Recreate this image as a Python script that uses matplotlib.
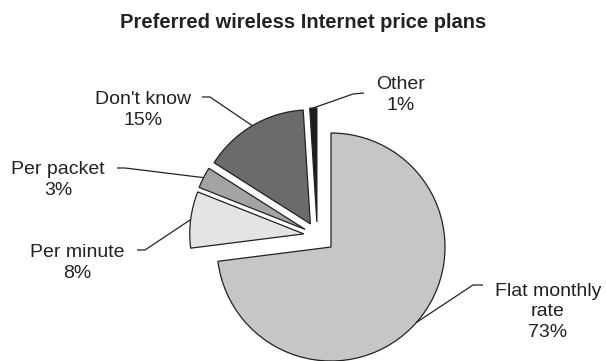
import numpy as np
import matplotlib
matplotlib.use("Agg")
import matplotlib.pyplot as plt

plt.rcParams['font.family'] = ['Liberation Sans', 'DejaVu Sans']

# price plan shares, clockwise from 12 o'clock
plans = ["Flat monthly\nrate", "Per minute", "Per packet", "Don't know", "Other"]
shares = [73, 8, 3, 15, 1]
colors = ["#c6c6c6", "#e4e4e4", "#a3a3a3", "#6b6b6b", "#1e1e1e"]

W, H = 606, 361
radius = 114
center = (331, 114)

fig = plt.figure(figsize=(W / 100, H / 100), dpi=100)
ax = fig.add_axes([0, 0, 1, 1])

# every small slice pulled out a bit, and the whole group nudged up-left
explode = [0] + [0.12 * radius] * 4
wedges, _ = ax.pie(shares, explode=explode, colors=colors, radius=radius,
                   center=center, startangle=90, counterclock=False,
                   wedgeprops=dict(edgecolor="#222222", linewidth=0.9))
shift = np.array([-0.12, 0.10]) * radius
for w in wedges[1:]:
    w.set_center(tuple(np.array(w.center) + shift))

ax.set_xlim(0, W)
ax.set_ylim(0, H)
ax.set_aspect("equal")
ax.axis("off")

# label text centre, elbow of the leader, end of the short dash
label_layout = [
    ((548, 312), (473, 285), (483, 285)),
    ((77, 263), (145, 250), (137, 250)),
    ((58, 180), (125, 168), (117, 168)),
    ((143, 110), (210, 97), (202, 97)),
    ((401, 95), (353, 94), (364, 93)),
]

for w, name, val, (txt, elbow, dash) in zip(wedges, plans, shares, label_layout):
    mid = np.deg2rad((w.theta1 + w.theta2) / 2)
    cx, cy = w.center
    edge = (cx + radius * np.cos(mid), cy + radius * np.sin(mid))
    xs = [edge[0], elbow[0], dash[0]]
    ys = [edge[1], H - elbow[1], H - dash[1]]
    ax.plot(xs, ys, color="#222222", lw=0.9, solid_capstyle="butt")
    ax.text(txt[0], H - txt[1], f"{name}\n{val}%", ha="center", va="center",
            fontsize=14, color="#222222", linespacing=1.3)

fig.text(0.5, 1 - 22 / H, "Preferred wireless Internet price plans",
         ha="center", va="center", fontsize=14.5, fontweight="bold", color="#222222")

fig.savefig("out.png", dpi=100)
